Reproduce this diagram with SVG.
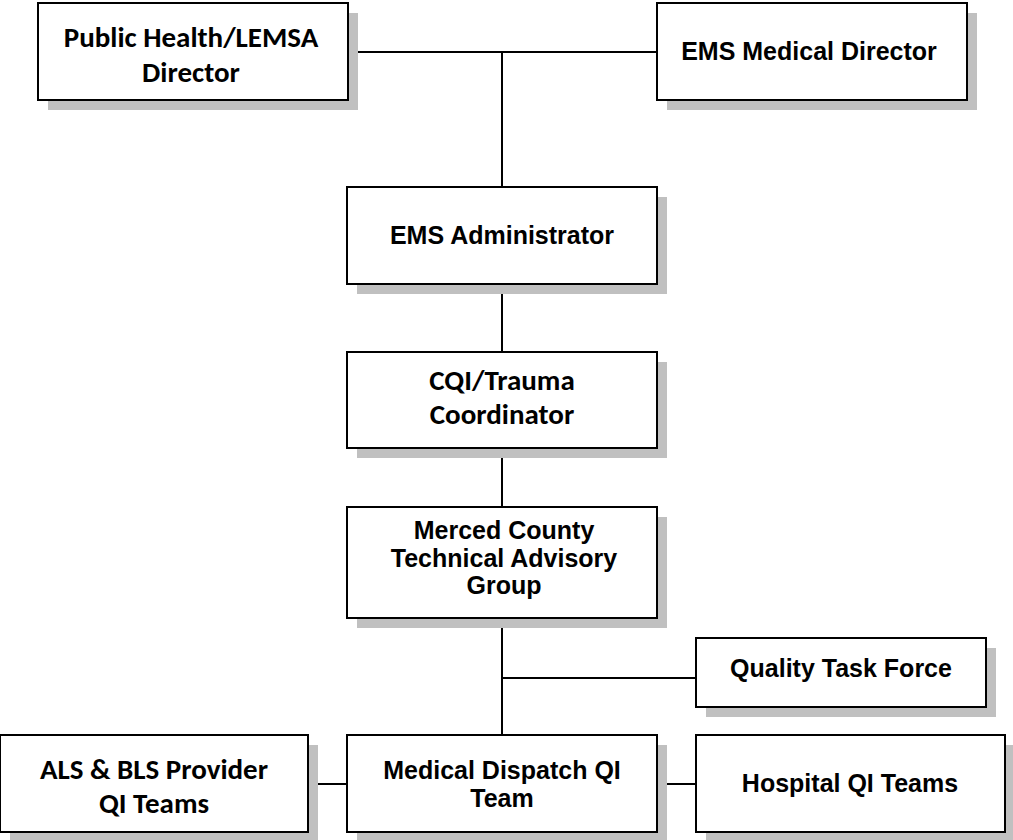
<svg xmlns="http://www.w3.org/2000/svg" width="1013" height="840" viewBox="0 0 1013 840">
<style>
.shadow{fill:#c0c0c0;stroke:none}
.box{fill:#ffffff;stroke:#000000;stroke-width:2}
.conn{stroke:#000000;stroke-width:2;fill:none}
.a{font-family:"Liberation Sans",Arial,sans-serif;font-weight:bold;font-size:25px;fill:#000;text-anchor:middle}
.c{font-family:Carlito,Lato,"Liberation Sans",sans-serif;font-weight:bold;font-size:29px;fill:#000;text-anchor:middle}
</style>
<rect width="1013" height="840" fill="#ffffff"/>
<g id="connectors">
<line class="conn" x1="348" y1="52" x2="657" y2="52"/>
<line class="conn" x1="502" y1="52" x2="502" y2="187"/>
<line class="conn" x1="502" y1="284" x2="502" y2="352"/>
<line class="conn" x1="502" y1="448" x2="502" y2="507"/>
<line class="conn" x1="502" y1="618" x2="502" y2="735"/>
<line class="conn" x1="502" y1="678" x2="696" y2="678"/>
<line class="conn" x1="308" y1="784" x2="347" y2="784"/>
<line class="conn" x1="657" y1="784" x2="696" y2="784"/>
</g>
<g id="public-health">
<rect class="shadow" x="48" y="13" width="310" height="97"/>
<rect class="box" x="38" y="3" width="310" height="97"/>
<text class="c"><tspan x="191" y="47">Public Health/LEMSA</tspan><tspan x="191" y="82">Director</tspan></text>
</g>
<g id="ems-medical-director">
<rect class="shadow" x="667" y="13" width="310" height="97"/>
<rect class="box" x="657" y="3" width="310" height="97"/>
<text class="a" x="809" y="60">EMS Medical Director</text>
</g>
<g id="ems-administrator">
<rect class="shadow" x="357" y="197" width="310" height="97"/>
<rect class="box" x="347" y="187" width="310" height="97"/>
<text class="a" x="502" y="244">EMS Administrator</text>
</g>
<g id="cqi-trauma">
<rect class="shadow" x="357" y="362" width="310" height="96"/>
<rect class="box" x="347" y="352" width="310" height="96"/>
<text class="c"><tspan x="502" y="390">CQI/Trauma</tspan><tspan x="502" y="424">Coordinator</tspan></text>
</g>
<g id="merced-tag">
<rect class="shadow" x="357" y="517" width="310" height="111"/>
<rect class="box" x="347" y="507" width="310" height="111"/>
<text class="a"><tspan x="504" y="539">Merced County</tspan><tspan x="504" y="567">Technical Advisory</tspan><tspan x="504" y="594">Group</tspan></text>
</g>
<g id="quality-task-force">
<rect class="shadow" x="706" y="648" width="290" height="69"/>
<rect class="box" x="696" y="638" width="290" height="69"/>
<text class="a" x="841" y="677">Quality Task Force</text>
</g>
<g id="als-bls">
<rect class="shadow" x="10" y="745" width="308" height="97"/>
<rect class="box" x="0" y="735" width="308" height="97"/>
<text class="c"><tspan x="154" y="779">ALS &amp; BLS Provider</tspan><tspan x="154" y="813">QI Teams</tspan></text>
</g>
<g id="medical-dispatch">
<rect class="shadow" x="357" y="745" width="310" height="97"/>
<rect class="box" x="347" y="735" width="310" height="97"/>
<text class="a"><tspan x="502" y="779">Medical Dispatch QI</tspan><tspan x="502" y="807">Team</tspan></text>
</g>
<g id="hospital-qi">
<rect class="shadow" x="706" y="745" width="309" height="97"/>
<rect class="box" x="696" y="735" width="309" height="97"/>
<text class="a" x="850" y="792">Hospital QI Teams</text>
</g>
</svg>
